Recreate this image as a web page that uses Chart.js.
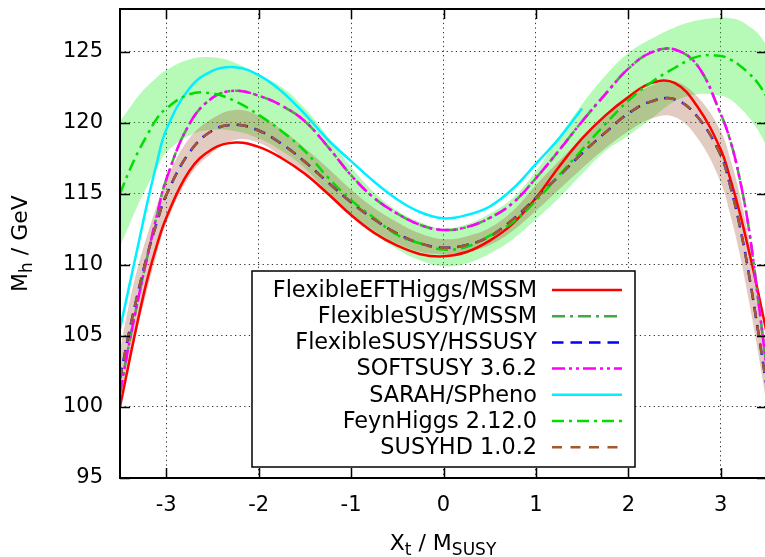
<!DOCTYPE html>
<html>
<head>
<meta charset="utf-8">
<script src="https://cdn.jsdelivr.net/npm/chart.js@4.4.1/dist/chart.umd.min.js"></script>
<style>
html, body { margin: 0; padding: 0; background: #fff; overflow: hidden; }
#wrap { position: relative; width: 780px; height: 557px; }
</style>
</head>
<body>
<div id="wrap"><canvas id="chart"></canvas></div>
<script>
// X_t / M_SUSY sample points shared by every curve
const xs = [-3.5, -3.4, -3.3, -3.2, -3.1, -3.0, -2.75, -2.5, -2.25, -2.0, -1.75, -1.5, -1.25, -1.0, -0.75, -0.5, -0.25,
	0, 0.25, 0.5, 0.75, 1.0, 1.25, 1.5, 1.75, 2.0, 2.25, 2.5, 2.75, 3.0, 3.1, 3.2, 3.3, 3.4, 3.5];
const xTicks = [-3, -2, -1, 0, 1, 2, 3];
const yTicks = [95, 100, 105, 110, 115, 120, 125];

// M_h / GeV
const flexibleEFTHiggs = [100.0, 103.2, 106.3, 109.1, 111.4, 113.3, 116.6, 118.15, 118.6, 118.3, 117.5, 116.4, 115.0, 113.5, 112.25, 111.35, 110.75,
	110.6, 110.9, 111.7, 112.9, 114.7, 116.9, 118.9, 120.5, 121.8, 122.8, 122.8, 121.1, 118.1, 116.1, 113.8, 111.1, 108.2, 105.1];
const flexibleSusyMssm = [101.0, 104.5, 107.7, 110.7, 113.5, 116.0, 119.9, 121.75, 122.25, 121.9, 121.2, 120.1, 118.3, 116.3, 114.7, 113.6, 112.8,
	112.45, 112.65, 113.3, 114.35, 116.1, 118.05, 120.1, 122.0, 123.8, 124.95, 125.15, 124.0, 120.6, 118.8, 116.2, 112.7, 107.8, 102.5];
const flexibleSusyHssusy = [102.0, 105.3, 108.2, 110.8, 113.0, 114.9, 117.9, 119.45, 119.85, 119.45, 118.5, 117.25, 115.8, 114.4, 113.2, 112.2, 111.5,
	111.2, 111.4, 112.0, 113.2, 114.7, 116.25, 117.85, 119.3, 120.65, 121.5, 121.65, 120.4, 117.7, 115.6, 112.9, 109.5, 105.5, 101.3];
const softsusy = [101.0, 104.5, 107.7, 110.7, 113.5, 116.0, 119.9, 121.75, 122.25, 121.9, 121.2, 120.1, 118.3, 116.3, 114.7, 113.6, 112.8,
	112.45, 112.65, 113.3, 114.35, 116.1, 118.05, 120.1, 122.0, 123.8, 124.95, 125.15, 124.0, 120.6, 118.8, 116.2, 112.7, 107.8, 102.5];
const sarahSpheno = [105.5, 108.5, 111.5, 114.5, 117.2, 119.5, 122.4, 123.65, 123.9, 123.35, 122.2, 120.6, 118.8, 117.3, 115.85, 114.6, 113.7,
	113.27, 113.5, 114.1, 115.35, 117.1, 118.9, 121.0]; // stops at 1.5
const feynHiggs = [115.0, 116.6, 118.0, 119.2, 120.3, 121.0, 122.0, 122.05, 121.5, 120.55, 119.4, 118.0, 116.15, 114.55, 113.3, 112.1, 111.5,
	111.08, 111.27, 112.05, 113.0, 114.5, 116.3, 118.1, 119.9, 121.55, 122.85, 123.85, 124.65, 124.7, 124.45, 124.05, 123.5, 122.8, 121.8];
const susyhd = [102.0, 105.3, 108.2, 110.8, 113.0, 114.9, 117.9, 119.45, 119.85, 119.45, 118.5, 117.25, 115.8, 114.4, 113.2, 112.2, 111.5,
	111.2, 111.4, 112.0, 113.2, 114.7, 116.25, 117.85, 119.3, 120.65, 121.5, 121.65, 120.4, 117.7, 115.6, 112.9, 109.5, 105.5, 101.3];

// uncertainty bands
const feynHiggsLow = [111.3, 112.8, 114.3, 115.6, 116.8, 117.9, 119.1, 119.5, 119.4, 118.9, 118.0, 116.8, 115.1, 113.5, 112.2, 111.1, 110.3,
	109.9, 110.1, 110.8, 111.8, 113.2, 114.7, 116.4, 118.0, 119.1, 120.3, 121.5, 122.0, 121.9, 121.65, 121.1, 120.4, 119.5, 118.3];
const feynHiggsHigh = [120.1, 121.0, 121.9, 122.6, 123.2, 123.7, 124.45, 124.6, 124.2, 123.35, 122.5, 121.0, 119.0, 116.9, 115.1, 113.8, 113.0,
	112.55, 112.85, 113.6, 114.7, 116.6, 119.0, 121.3, 123.3, 124.9, 125.9, 126.7, 127.2, 127.4, 127.35, 127.2, 126.8, 126.3, 125.4];
const susyhdLow = [100.5, 103.0, 105.8, 108.4, 110.8, 112.9, 116.2, 117.9, 118.8, 118.6, 117.6, 116.3, 114.9, 113.5, 112.4, 111.5, 110.9,
	110.75, 110.9, 111.4, 112.4, 113.8, 115.3, 116.8, 118.2, 119.4, 120.3, 120.4, 118.9, 115.8, 113.6, 110.9, 107.6, 104.0, 100.0];
const susyhdHigh = [104.0, 107.3, 110.0, 112.2, 114.2, 116.0, 118.9, 120.3, 120.9, 120.5, 119.5, 118.2, 116.8, 115.3, 114.0, 113.0, 112.2,
	111.8, 112.0, 112.6, 113.8, 115.6, 117.3, 118.9, 120.4, 121.7, 122.6, 122.9, 121.8, 119.4, 117.5, 115.1, 111.9, 108.0, 104.0];

const series = [
	{ label: 'FlexibleEFTHiggs/MSSM', values: flexibleEFTHiggs, color: '#ff0000', dash: [] },
	{ label: 'FlexibleSUSY/MSSM', values: flexibleSusyMssm, color: '#44a844', dash: [13, 5, 3, 5] },
	{ label: 'FlexibleSUSY/HSSUSY', values: flexibleSusyHssusy, color: '#0000ff', dash: [11.5, 7] },
	{ label: 'SOFTSUSY 3.6.2', values: softsusy, color: '#ff00ff', dash: [13, 4, 3, 4, 3, 4] },
	{ label: 'SARAH/SPheno', values: sarahSpheno, color: '#00f0ff', dash: [] },
	{ label: 'FeynHiggs 2.12.0', values: feynHiggs, color: '#00dd00', dash: [12, 5, 3, 5] },
	{ label: 'SUSYHD 1.0.2', values: susyhd, color: '#a5582f', dash: [10, 8.5] }
];

const FONT = 'DejaVu Sans';

function toPoints(ys) {
	return ys.map((y, i) => ({ x: xs[i], y: y }));
}

function bandSet(ys, fill, bg) {
	return {
		data: toPoints(ys),
		fill: fill,
		backgroundColor: bg,
		borderColor: 'rgba(0,0,0,0)',
		borderWidth: 0,
		pointRadius: 0,
		tension: 0.4
	};
}

// Chart.js draws index 0 on top, so the last legend entry goes first
const lineSets = series.slice().reverse().map(s => ({
	label: s.label,
	data: toPoints(s.values),
	borderColor: s.color,
	borderDash: s.dash,
	borderDashOffset: s.label === 'FlexibleSUSY/HSSUSY' ? 0.75 : 0,
	borderWidth: 2.5,
	pointRadius: 0,
	fill: false,
	tension: 0.4
}));

const datasets = lineSets.concat([
	bandSet(susyhdHigh, '+1', 'rgba(160,82,45,0.3)'),
	bandSet(susyhdLow, false, 'rgba(0,0,0,0)'),
	bandSet(feynHiggsHigh, '+1', 'rgba(30,235,30,0.32)'),
	bandSet(feynHiggsLow, false, 'rgba(0,0,0,0)')
]);

// gnuplot-like frame: inward ticks, border, legend box and axis titles
const framePlugin = {
	id: 'frame',
	afterDraw(chart) {
		const ctx = chart.ctx;
		const a = chart.chartArea;
		const sx = chart.scales.x, sy = chart.scales.y;
		ctx.save();

		// legend
		const L = { left: 252, top: 271, right: 635, bottom: 467, textRight: 537, x0: 552, x1: 622, row0: 290, step: 26.2 };
		ctx.fillStyle = '#fff';
		ctx.fillRect(L.left, L.top, L.right - L.left, L.bottom - L.top);
		ctx.strokeStyle = '#000';
		ctx.lineWidth = 1.5;
		ctx.setLineDash([]);
		ctx.strokeRect(L.left, L.top, L.right - L.left, L.bottom - L.top);
		ctx.font = '22.4px "' + FONT + '"';
		ctx.textAlign = 'right';
		ctx.textBaseline = 'middle';
		series.forEach((s, i) => {
			const y = L.row0 + i * L.step;
			ctx.fillStyle = '#000';
			ctx.fillText(s.label, L.textRight, y + 1);
			ctx.strokeStyle = s.color;
			ctx.lineWidth = 2.5;
			ctx.setLineDash(s.dash);
			ctx.beginPath();
			ctx.moveTo(L.x0, y);
			ctx.lineTo(L.x1, y);
			ctx.stroke();
		});

		// ticks on all four sides, pointing inwards
		ctx.setLineDash([]);
		ctx.strokeStyle = '#000';
		ctx.lineWidth = 1.5;
		const tl = 10;
		ctx.beginPath();
		xTicks.forEach(v => {
			const px = Math.round(sx.getPixelForValue(v)) + 0.5;
			ctx.moveTo(px, a.bottom); ctx.lineTo(px, a.bottom - tl);
			ctx.moveTo(px, a.top); ctx.lineTo(px, a.top + tl);
		});
		yTicks.forEach(v => {
			const py = Math.round(sy.getPixelForValue(v)) + 0.5;
			ctx.moveTo(a.left, py); ctx.lineTo(a.left + tl, py);
			ctx.moveTo(a.right, py); ctx.lineTo(a.right - tl, py);
		});
		ctx.stroke();

		// border
		ctx.lineWidth = 2;
		ctx.strokeRect(a.left, a.top, a.right - a.left, a.bottom - a.top);

		// axis titles with subscripts
		ctx.fillStyle = '#000';
		ctx.textAlign = 'left';
		ctx.textBaseline = 'alphabetic';
		function drawParts(parts, cx, cy) {
			let w = 0;
			parts.forEach(p => {
				ctx.font = p.size + 'px "' + FONT + '"';
				w += ctx.measureText(p.t).width;
			});
			let x = cx - w / 2;
			parts.forEach(p => {
				ctx.font = p.size + 'px "' + FONT + '"';
				ctx.fillText(p.t, x, cy + p.dy);
				x += ctx.measureText(p.t).width;
			});
		}
		drawParts([
			{ t: 'X', size: 22, dy: 0 },
			{ t: 't', size: 17, dy: 5 },
			{ t: ' / M', size: 22, dy: 0 },
			{ t: 'SUSY', size: 17, dy: 5 }
		], 443, 550);

		ctx.save();
		ctx.translate(27, (a.top + a.bottom) / 2);
		ctx.rotate(-Math.PI / 2);
		drawParts([
			{ t: 'M', size: 22, dy: 0 },
			{ t: 'h', size: 17, dy: 5 },
			{ t: ' / GeV', size: 22, dy: 0 }
		], 0, 0);
		ctx.restore();

		ctx.restore();
	}
};

new Chart(document.getElementById('chart'), {
	type: 'line',
	data: { datasets: datasets },
	options: {
		responsive: true,
		maintainAspectRatio: false,
		animation: false,
		events: [],
		layout: { padding: { left: 0, right: 13, top: 9, bottom: 0 } },
		plugins: {
			legend: { display: false },
			tooltip: { enabled: false },
			filler: { drawTime: 'beforeDatasetsDraw', propagate: false }
		},
		scales: {
			x: {
				type: 'linear',
				min: -3.5,
				max: 3.5,
				afterBuildTicks: axis => { axis.ticks = xTicks.map(v => ({ value: v })); },
				afterFit: axis => { axis.height = 79; axis.paddingLeft = 0; axis.paddingRight = 0; },
				grid: { color: 'rgba(0,0,0,0.8)', lineWidth: 1, drawTicks: false },
				border: { display: false, dash: [1.3, 3.3] },
				ticks: { color: '#000', font: { family: FONT, size: 21 }, padding: 15, maxRotation: 0 }
			},
			y: {
				type: 'linear',
				min: 95,
				max: 128,
				afterBuildTicks: axis => { axis.ticks = yTicks.map(v => ({ value: v })); },
				afterFit: axis => { axis.width = 120; axis.paddingTop = 0; axis.paddingBottom = 0; },
				grid: { color: 'rgba(0,0,0,0.8)', lineWidth: 1, drawTicks: false },
				border: { display: false, dash: [1.3, 3.3] },
				ticks: { color: '#000', font: { family: FONT, size: 21 }, padding: 17 }
			}
		}
	},
	plugins: [framePlugin]
});
</script>
</body>
</html>
